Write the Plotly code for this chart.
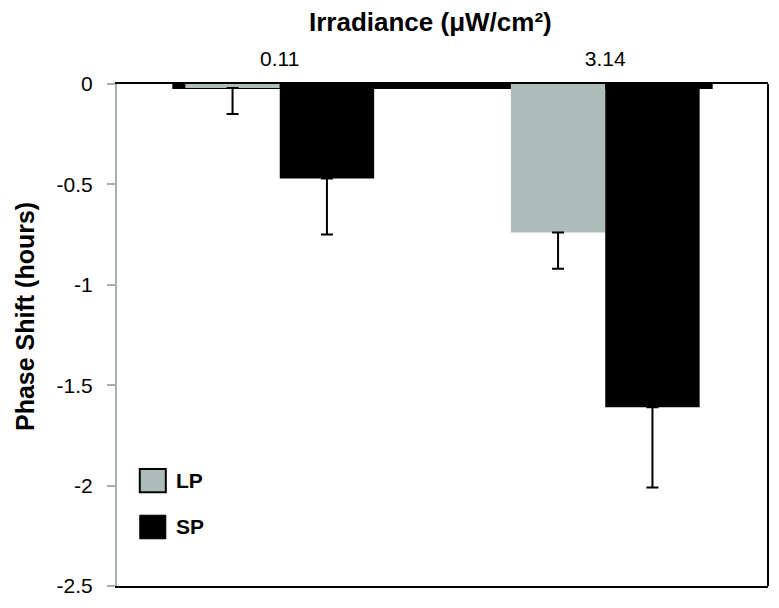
import plotly.graph_objects as go

# ---- data ----
categories = ["0.11", "3.14"]
lp_values = [-0.02, -0.74]
lp_err = [0.13, 0.18]
sp_values = [-0.47, -1.61]
sp_err = [0.28, 0.40]
y_tickvals = [0, -0.5, -1, -1.5, -2, -2.5]
y_ticktext = ["0", "-0.5", "-1", "-1.5", "-2", "-2.5"]

LP_COLOR = "#aebdba"
SP_COLOR = "#000000"
FONT = "Liberation Sans, Arial, Helvetica, sans-serif"

fig = go.Figure()
fig.add_trace(go.Bar(
    x=categories, y=lp_values, name="LP",
    marker=dict(color=LP_COLOR, line=dict(width=0)),
    error_y=dict(type="data", symmetric=False, array=[0] * len(lp_err),
                 arrayminus=lp_err, color="black", thickness=2, width=6),
    showlegend=False,
))
fig.add_trace(go.Bar(
    x=categories, y=sp_values, name="SP",
    marker=dict(color=SP_COLOR, line=dict(width=0)),
    error_y=dict(type="data", symmetric=False, array=[0] * len(sp_err),
                 arrayminus=sp_err, color="black", thickness=2, width=6),
    showlegend=False,
))

shapes = [
    # thick zero band under the bars
    dict(type="line", xref="x", yref="paper", x0=-0.33, x1=1.33, y0=0.995, y1=0.995,
         line=dict(color="black", width=5), layer="below"),
    # right frame line
    dict(type="line", xref="paper", yref="paper", x0=1, x1=1, y0=0, y1=1,
         line=dict(color="black", width=2)),
    # legend swatches
    dict(type="rect", xref="paper", yref="paper", x0=0.035, x1=0.075, y0=0.187, y1=0.233,
         fillcolor=LP_COLOR, line=dict(color="black", width=2)),
    dict(type="rect", xref="paper", yref="paper", x0=0.035, x1=0.075, y0=0.094, y1=0.141,
         fillcolor=SP_COLOR, line=dict(color="black", width=1)),
]

annotations = [
    dict(text="<b>LP</b>", xref="paper", yref="paper", x=0.088, y=0.211,
         xanchor="left", yanchor="middle", showarrow=False,
         font=dict(size=21, color="black", family=FONT)),
    dict(text="<b>SP</b>", xref="paper", yref="paper", x=0.088, y=0.118,
         xanchor="left", yanchor="middle", showarrow=False,
         font=dict(size=21, color="black", family=FONT)),
    dict(text="<b>Irradiance (μW/cm²)</b>", xref="paper", yref="paper",
         x=(430 - 117) / 651, y=1, yshift=62, xanchor="center", yanchor="middle",
         showarrow=False, font=dict(size=26, color="black", family=FONT)),
    dict(text="<b>Phase Shift (hours)</b>", xref="paper", yref="paper",
         x=0, xshift=-92, y=(586 - 317) / 502, xanchor="center", yanchor="middle",
         textangle=-90, showarrow=False, font=dict(size=25, color="black", family=FONT)),
]

# page body has an 8px margin; size/margins compensate so the plot lands where the reference has it
fig.update_layout(
    width=771, height=600,
    margin=dict(l=109, r=11, t=76, b=22),
    paper_bgcolor="white", plot_bgcolor="white",
    barmode="group", bargap=0.42, bargroupgap=0,
    font=dict(family=FONT, size=21, color="black"),
    shapes=shapes, annotations=annotations,
    xaxis=dict(type="category", side="top", range=[-0.5, 1.5],
               showline=True, linecolor="black", linewidth=2, mirror=True,
               showgrid=False, zeroline=False, ticks="", ticklabelstandoff=8,
               tickfont=dict(size=21, family=FONT, color="black")),
    yaxis=dict(range=[-2.5, 0], tickvals=y_tickvals, ticktext=y_ticktext,
               showline=True, linecolor="#a3b2af", linewidth=2,
               ticks="outside", ticklen=8, tickwidth=2, tickcolor="#a3b2af",
               showgrid=False, zeroline=False, ticklabelstandoff=10,
               tickfont=dict(size=21, family=FONT, color="black")),
)

fig.write_html("out.html")
